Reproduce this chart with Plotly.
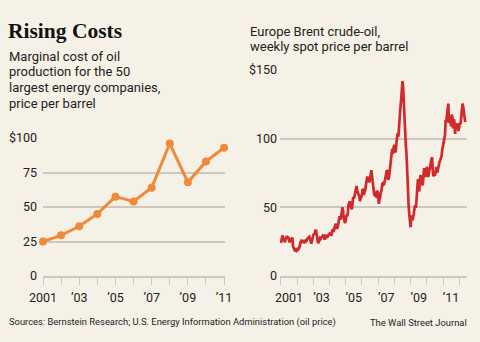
import pandas as pd
import plotly.graph_objects as go

# ---- Marginal cost of oil production (annual, $/barrel) ----
cost_years = [2001, 2002, 2003, 2004, 2005, 2006, 2007, 2008, 2009, 2010, 2011]
cost_values = [25, 29.5, 36, 45, 57.5, 54, 64, 96, 68, 83, 93]

# ---- Europe Brent spot price, twice-monthly readings ($/barrel) ----
brent_2001 = [24.0, 27.0, 29.5, 28.0, 26.5, 24.5, 24.5, 27.0, 28.0, 29.0, 28.0, 28.5,
              26.0, 24.5, 25.5, 26.5, 26.5, 28.0, 21.5, 20.5, 20.0, 18.0, 19.0, 18.5]
brent_2002 = [19.5, 19.0, 19.5, 20.5, 22.0, 24.5, 25.5, 25.0, 25.5, 26.0, 24.0, 24.5,
              25.5, 25.0, 25.5, 27.0, 27.5, 28.5, 28.5, 27.0, 25.0, 23.5, 25.5, 28.5]
brent_2003 = [30.0, 30.5, 31.0, 33.0, 33.5, 30.5, 25.5, 24.0, 24.5, 26.5, 27.5, 27.0,
              28.0, 28.5, 29.5, 30.0, 28.5, 26.5, 28.0, 30.0, 28.5, 28.5, 29.5, 30.0]
brent_2004 = [30.5, 31.5, 29.5, 30.0, 33.0, 33.5, 32.0, 33.5, 35.5, 38.0, 36.5, 34.5,
              35.5, 37.5, 41.0, 43.5, 41.0, 42.5, 46.0, 50.0, 47.5, 42.0, 40.0, 38.5]
brent_2005 = [41.0, 44.5, 43.5, 45.5, 51.5, 54.0, 54.5, 51.5, 50.5, 48.5, 52.0, 57.5,
              56.5, 57.5, 61.0, 64.5, 65.5, 62.0, 60.5, 58.0, 58.0, 54.5, 55.5, 57.5]
brent_2006 = [59.5, 63.5, 62.5, 59.0, 61.5, 62.5, 66.5, 70.0, 72.5, 69.5, 70.5, 68.0,
              72.0, 75.5, 77.0, 73.0, 67.5, 62.0, 60.0, 58.5, 58.5, 58.0, 62.0, 61.5]
brent_2007 = [59.0, 52.5, 56.0, 57.5, 61.0, 62.0, 67.0, 67.5, 66.5, 67.0, 69.5, 72.0,
              73.5, 77.0, 76.0, 70.0, 71.5, 77.0, 78.5, 82.5, 89.5, 92.5, 89.0, 93.5]
brent_2008 = [95.5, 90.0, 91.0, 96.5, 100.5, 104.0, 101.5, 110.5, 113.5, 122.5, 128.0, 133.5,
              142.0, 138.0, 123.5, 113.0, 108.0, 95.0, 88.5, 72.0, 63.0, 52.5, 45.0, 38.0]
brent_2009 = [35.5, 44.0, 43.0, 40.5, 42.5, 45.5, 50.0, 51.5, 49.5, 57.5, 64.0, 70.5,
              68.0, 61.5, 70.5, 73.5, 68.5, 68.0, 66.0, 74.0, 78.5, 77.0, 78.0, 72.0]
brent_2010 = [79.5, 76.5, 72.0, 74.5, 78.0, 79.5, 82.5, 85.0, 86.5, 76.5, 72.5, 75.5,
              73.0, 75.0, 79.5, 75.5, 76.0, 78.5, 82.0, 83.0, 84.5, 86.5, 87.5, 92.0]
brent_2011 = [94.5, 97.5, 100.5, 102.5, 113.5, 112.0, 117.5, 123.5, 125.5, 111.5, 115.5, 114.0,
              109.0, 117.5, 116.0, 107.5, 114.0, 112.5, 103.5, 110.5, 109.5, 111.0, 110.0, 105.5]
brent_2012 = [108.0, 111.5, 110.5, 118.0, 123.5, 125.5, 123.0, 118.5, 116.0, 112.0]

brent_values = (brent_2001 + brent_2002 + brent_2003 + brent_2004 + brent_2005 + brent_2006
                + brent_2007 + brent_2008 + brent_2009 + brent_2010 + brent_2011 + brent_2012)
brent_dates = pd.date_range("2001-01-01", periods=len(brent_values), freq="SMS")

# ---- Text ----
title_text = "Rising Costs"
left_subtitle = ["Marginal cost of oil", "production for the 50",
                 "largest energy companies,", "price per barrel"]
right_subtitle = ["Europe Brent crude-oil,", "weekly spot price per barrel"]
source_text = "Sources: Bernstein Research; U.S. Energy Information Administration (oil price)"
credit_text = "The Wall Street Journal"

left_ytick_vals = [0, 25, 50, 75, 100]
left_ytick_text = ["0", "25", "50", "75", "$100"]
right_ytick_vals = [0, 50, 100, 150]
right_ytick_text = ["0", "50", "100", "$150"]
year_labels = ["2001", "’03", "’05", "’07", "’09", "’11"]
label_years = [2001, 2003, 2005, 2007, 2009, 2011]

# ---- Styling ----
W, H = 480, 342
BG = "#f6f1e7"
GRID = "#cbc8c0"
INK = "#222222"
ORANGE = "#ef8a3a"
RED = "#d02a2c"
SANS = "Roboto, sans-serif"
TICKFONT = dict(family=SANS, size=12.5, color=INK)


def px_x(px):
    return px / W


def px_y(py):
    return 1 - py / H


fig = go.Figure()

fig.add_trace(go.Scatter(
    x=cost_years, y=cost_values, mode="lines+markers",
    line=dict(color=ORANGE, width=3),
    marker=dict(color=ORANGE, size=8),
    cliponaxis=False, xaxis="x", yaxis="y", showlegend=False,
))

fig.add_trace(go.Scatter(
    x=brent_dates, y=brent_values, mode="lines",
    line=dict(color=RED, width=2.7),
    xaxis="x2", yaxis="y2", showlegend=False,
))

# left panel tick labels: every year ticked, odd years labelled
left_xtext = []
for yr in cost_years:
    left_xtext.append(year_labels[label_years.index(yr)] if yr in label_years else "")

axis_common = dict(
    showgrid=False, zeroline=False, showline=True, linecolor=GRID, linewidth=1.5,
    ticks="outside", ticklen=7, tickwidth=1.2, tickcolor=GRID, tickfont=TICKFONT,
    ticklabelstandoff=2, fixedrange=True, automargin=False,
)

fig.update_layout(
    width=W, height=H,
    margin=dict(l=0, r=0, t=0, b=0, pad=0),
    paper_bgcolor=BG, plot_bgcolor=BG,
    xaxis=dict(
        domain=[px_x(43), px_x(225)], range=[2001, 2011.05],
        tickmode="array", tickvals=cost_years, ticktext=left_xtext,
        anchor="y", **axis_common,
    ),
    yaxis=dict(
        domain=[px_y(276), px_y(138)], range=[0, 100],
        tickmode="array", tickvals=left_ytick_vals, ticktext=left_ytick_text,
        showgrid=True, gridcolor=GRID, gridwidth=1.5, zeroline=False,
        ticks="", ticklabelstandoff=5, tickfont=TICKFONT, anchor="x",
        fixedrange=True, automargin=False,
    ),
    xaxis2=dict(
        domain=[px_x(280), px_x(467)], range=["2000-12-10", "2012-06-25"], type="date",
        tickmode="array",
        tickvals=[pd.Timestamp(f"{y}-07-02") for y in label_years], ticktext=year_labels,
        anchor="y2",
        minor=dict(ticks="outside", ticklen=7, tickwidth=1.2, tickcolor=GRID,
                   tick0="2001-01-01", dtick="M12", showgrid=False),
        **{**axis_common, "tickcolor": "rgba(0,0,0,0)"},
    ),
    yaxis2=dict(
        domain=[px_y(276), px_y(70)], range=[0, 150],
        tickmode="array", tickvals=right_ytick_vals, ticktext=right_ytick_text,
        showgrid=True, gridcolor=GRID, gridwidth=1.5, zeroline=False,
        ticks="", ticklabelstandoff=2, tickfont=TICKFONT, anchor="x2",
        fixedrange=True, automargin=False,
    ),
)

annotations = [
    dict(text=f"<b>{title_text}</b>", x=px_x(7), y=px_y(31.5), xanchor="left", yanchor="middle",
         font=dict(family="Liberation Serif, DejaVu Serif, serif", size=21.5, color="#111111")),
]
for i, line in enumerate(left_subtitle):
    annotations.append(dict(text=line, x=px_x(8), y=px_y(56 + i * 15.8), xanchor="left",
                            yanchor="middle", font=dict(family=SANS, size=13, color=INK)))
for i, line in enumerate(right_subtitle):
    annotations.append(dict(text=line, x=px_x(249), y=px_y(31 + i * 15.5), xanchor="left",
                            yanchor="middle", font=dict(family=SANS, size=13, color=INK)))
annotations.append(dict(text=source_text, x=px_x(8), y=px_y(322), xanchor="left",
                        yanchor="middle", font=dict(family=SANS, size=9.4, color=INK)))
annotations.append(dict(text=credit_text, x=px_x(468), y=px_y(322), xanchor="right",
                        yanchor="middle", font=dict(family=SANS, size=9.4, color=INK)))

for a in annotations:
    a.update(xref="paper", yref="paper", showarrow=False, borderpad=0)
fig.update_layout(annotations=annotations)

fig.write_html("out.html")
